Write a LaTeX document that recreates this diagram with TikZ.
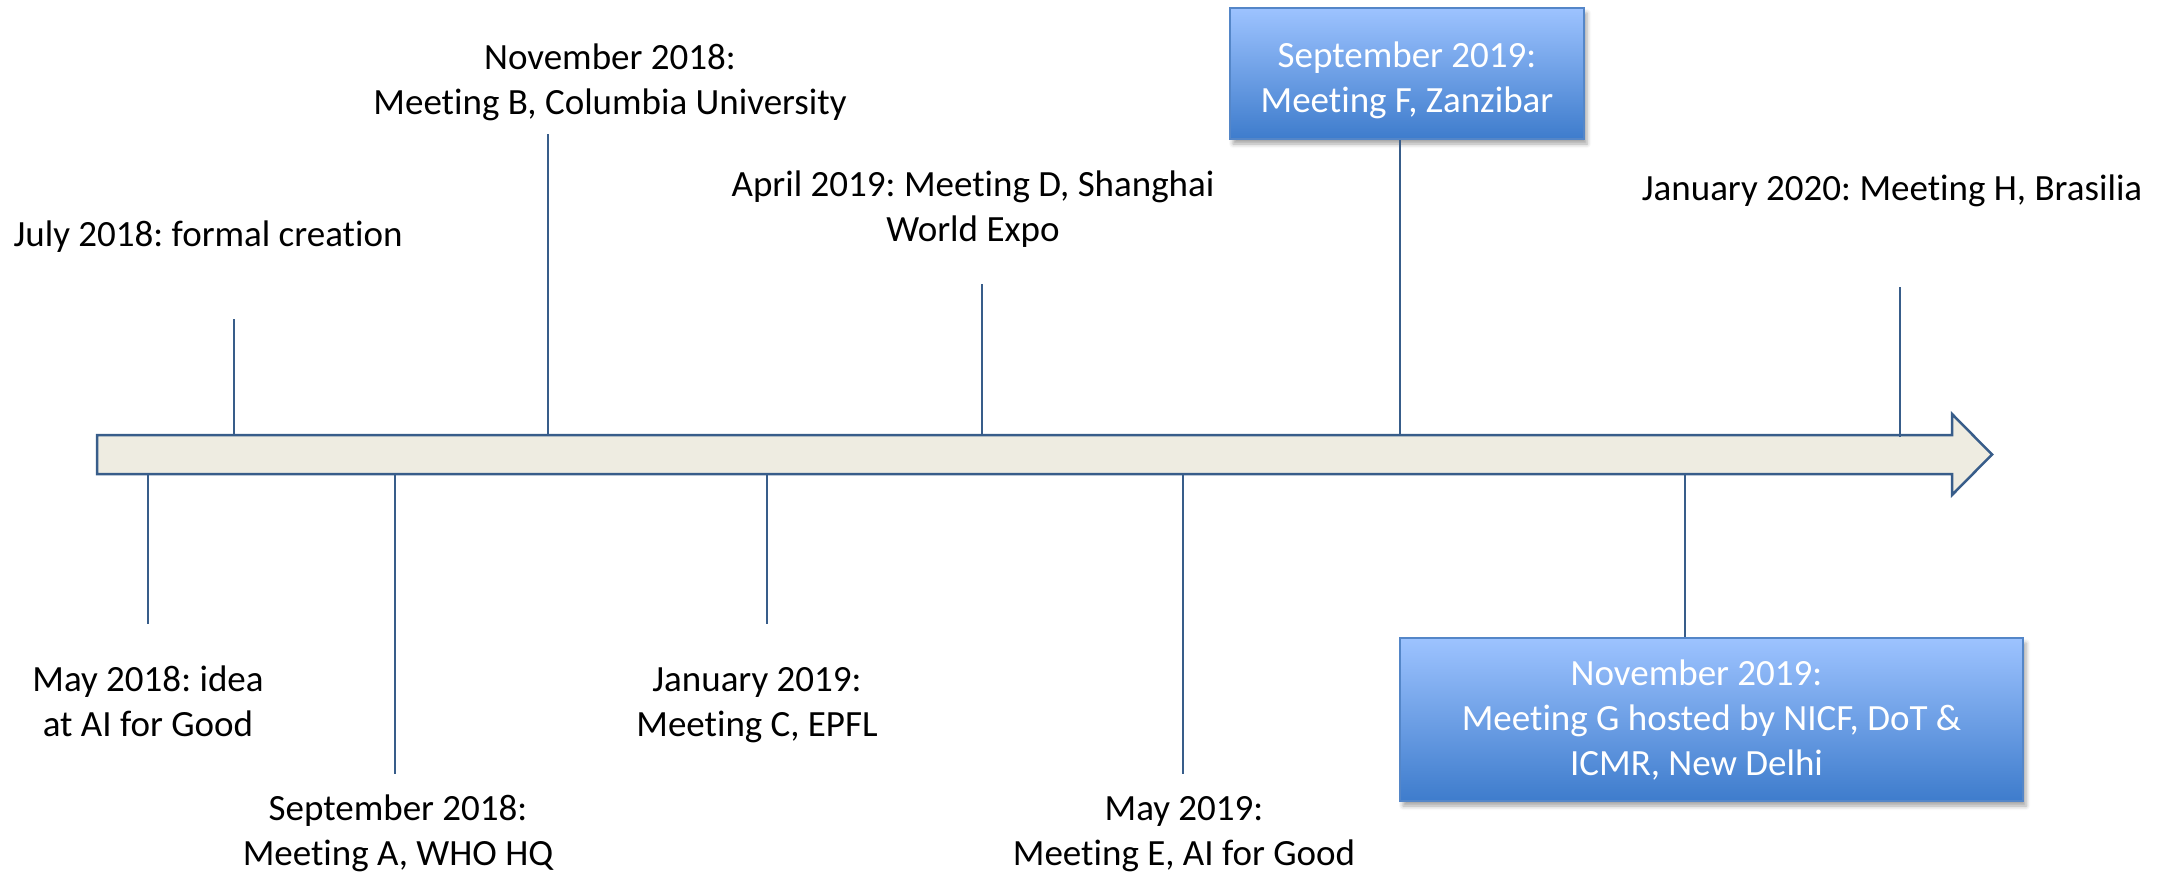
\documentclass[tikz,border=0pt]{standalone}
\usepackage{fontspec}
\setmainfont{Carlito}[Ligatures=NoCommon]
\frenchspacing
\usetikzlibrary{shadows.blur}
\definecolor{lineblue}{RGB}{56,93,138}
\definecolor{axisfill}{RGB}{238,236,225}
\definecolor{boxtop}{RGB}{157,195,255}
\definecolor{boxbot}{RGB}{62,124,204}
\definecolor{boxedge}{RGB}{84,134,200}
\begin{document}
\begin{tikzpicture}[x=1pt,y=-1pt,
  lbl/.style={font=\fontsize{37}{45}\selectfont\frenchspacing, inner sep=0pt, align=center, anchor=base},
  tickline/.style={draw=lineblue, line width=2pt},
  axisarrow/.style={draw=lineblue, fill=axisfill, line width=2.5pt, line join=miter},
  bluebox/.style={draw=boxedge, line width=1.5pt, top color=boxtop, bottom color=boxbot,
    text=white, font=\fontsize{37}{45}\selectfont\frenchspacing, align=center, inner sep=0pt,
    blur shadow={shadow xshift=3pt, shadow yshift=-5pt, shadow blur radius=4pt, shadow opacity=35}}]
\useasboundingbox (0,0) rectangle (2174,871);

% timeline arrow
\draw[axisarrow] (97,435) -- (1952,435) -- (1952,414) -- (1992,454.5) -- (1952,495) -- (1952,474) -- (97,474) -- cycle;

% labels above (anchor = baseline of the last line)
\node[lbl] (july) at (208,246) {July 2018: formal creation};
\node[lbl] (novB) at (610,114) {November 2018:\\Meeting B, Columbia University};
\node[lbl] (aprD) at (973,241) {April 2019: Meeting D, Shanghai\\World Expo};
\node[lbl] (janH) at (1892,200) {January 2020: Meeting H, Brasilia};
\node[bluebox, minimum width=354pt, minimum height=131pt, text height=85pt, text depth=8pt] (boxF) at (1407,73.5) {September 2019:\\Meeting F, Zanzibar};

% labels below
\node[lbl] (may18) at (148,736) {May 2018: idea\\at AI for Good};
\node[lbl] (sep18) at (398,865) {September 2018:\\Meeting A, WHO HQ};
\node[lbl] (jan19) at (757,736) {January 2019:\\Meeting C, EPFL};
\node[lbl] (may19) at (1184,865) {May 2019:\\Meeting E, AI for Good};
\node[bluebox, minimum width=623pt, minimum height=163pt, text height=119pt, text depth=8pt] (boxG) at (1711.5,719.5) {November 2019:\hspace*{30pt}\\Meeting G hosted by NICF, DoT \&\hspace*{58pt}\\ICMR, New Delhi\hspace*{30pt}};

% tick end points
\coordinate (t1a) at (148,474);  \coordinate (t1b) at (148,624);
\coordinate (t2a) at (234,435);  \coordinate (t2b) at (234,319);
\coordinate (t3a) at (395,474);  \coordinate (t3b) at (395,774);
\coordinate (t4a) at (548,435);  \coordinate (t4b) at (548,134);
\coordinate (t5a) at (767,474);  \coordinate (t5b) at (767,624);
\coordinate (t6a) at (982,435);  \coordinate (t6b) at (982,284);
\coordinate (t7a) at (1183,474); \coordinate (t7b) at (1183,774);
\coordinate (t8a) at (1400,435);
\coordinate (t9a) at (1685,474);
\coordinate (t10a) at (1900,437); \coordinate (t10b) at (1900,287);

\draw[tickline] (t1a) -- (t1b);
\draw[tickline] (t2a) -- (t2b);
\draw[tickline] (t3a) -- (t3b);
\draw[tickline] (t4a) -- (t4b);
\draw[tickline] (t5a) -- (t5b);
\draw[tickline] (t6a) -- (t6b);
\draw[tickline] (t7a) -- (t7b);
\draw[tickline] (t8a) -- (boxF.south -| t8a);
\draw[tickline] (t9a) -- (boxG.north -| t9a);
\draw[tickline] (t10a) -- (t10b);
\end{tikzpicture}
\end{document}
